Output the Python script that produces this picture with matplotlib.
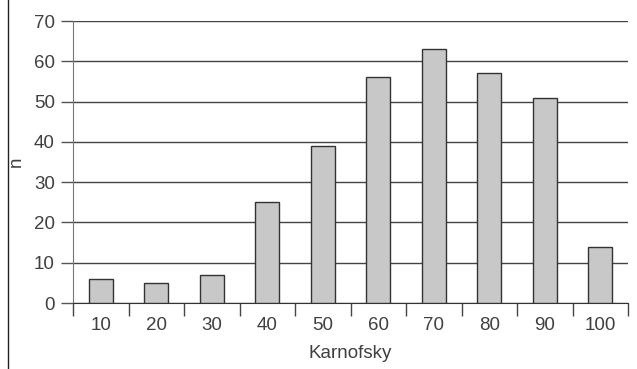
import numpy as np
import matplotlib.pyplot as plt
from matplotlib.lines import Line2D

plt.rcParams['font.family'] = ['Liberation Sans', 'DejaVu Sans']

categories = ['10', '20', '30', '40', '50', '60', '70', '80', '90', '100']
counts = [6, 5, 7, 25, 39, 56, 63, 57, 51, 14]
y_ticks = [0, 10, 20, 30, 40, 50, 60, 70]

fig = plt.figure(figsize=(6.37, 3.69), dpi=100)
ax = fig.add_axes([73 / 637, 66 / 369, 555 / 637, 282 / 369])

x = np.arange(len(categories))
ax.set_axisbelow(True)
ax.yaxis.grid(True, color='#444444', linewidth=1.0)
ax.bar(x, counts, width=0.43, color='#c8c8c8', edgecolor='#333333', linewidth=1.0, zorder=3)

ax.set_xlim(-0.5, len(categories) - 0.5)
ax.set_ylim(0, 70)
ax.set_yticks(y_ticks)
ax.set_xticks(x)
ax.set_xticklabels(categories)
ax.set_xticks(np.arange(len(categories) + 1) - 0.5, minor=True)

txt = '#404040'
ax.tick_params(axis='x', which='major', length=0, pad=10, labelsize=13.5, labelcolor=txt)
ax.tick_params(axis='x', which='minor', length=9, width=1, color='#444444', direction='out')
ax.tick_params(axis='y', length=9, width=1, color='#555555', labelsize=13.5, labelcolor=txt, pad=4)

for side in ['top', 'right']:
    ax.spines[side].set_visible(False)
ax.spines['left'].set_color('#777777')
ax.spines['bottom'].set_color('#333333')

ax.set_xlabel('Karnofsky', fontsize=13.5, color=txt, labelpad=8)
ax.set_ylabel('n', fontsize=13.5, color=txt)
ax.yaxis.set_label_coords(-0.086, 0.5)

fig.add_artist(Line2D([7.5 / 637, 7.5 / 637], [0, 1], transform=fig.transFigure,
                      color='#222222', linewidth=1.0))

fig.savefig('out.png', dpi=100)
